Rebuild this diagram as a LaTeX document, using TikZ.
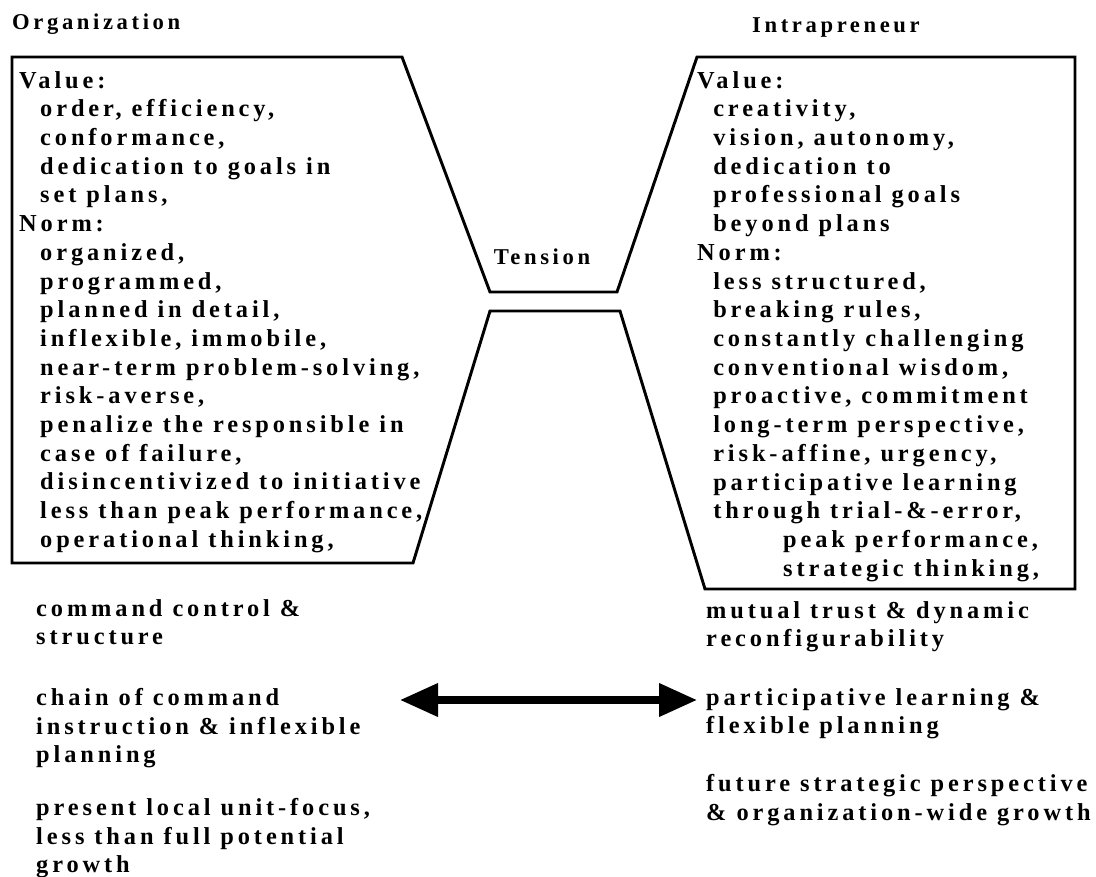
\documentclass[tikz,border=0pt]{standalone}
\usepackage{fontspec}
\setmainfont{Liberation Serif}[LetterSpace=16]
\usetikzlibrary{positioning}
\usetikzlibrary{arrows.meta}

\newcommand{\indl}{\hspace*{17.9pt}}
\newcommand{\indr}{\hspace*{13.7pt}}
\newcommand{\indp}{\hspace*{73.4pt}}

\begin{document}
\begin{tikzpicture}[x=0.03cm, y=-0.03cm,
>={Triangle[length=1.14cm,width=0.96cm]},
txt/.style={inner sep=0pt, align=left, anchor=north west, font=\fontsize{20.8}{24.5}\selectfont\bfseries},
lbl/.style={inner sep=0pt, anchor=base west, font=\fontsize{19.3}{24.5}\selectfont\bfseries},
outline/.style={draw, line width=2.5pt, line join=miter}]
\useasboundingbox (0,0) rectangle (1096,877);

\draw[outline] (12,57) -- (402,57) -- (490,292) -- (617,292) -- (697,57) -- (1075,57)
  -- (1075,589) -- (705,589) -- (620,311) -- (490,311) -- (413,563) -- (12,563) -- cycle;

\node[lbl] (orghead) at (12,30) {Organization};
\node[lbl] (inthead) at (752,33) {Intrapreneur};
\node[lbl, anchor=base] (tension) at (542,264) {Tension};

\node[txt] (orgbox) at (19,71) {Value:\\
\indl order, efficiency,\\
\indl conformance,\\
\indl dedication to goals in\\
\indl set plans,\\
Norm:\\
\indl organized,\\
\indl programmed,\\
\indl planned in detail,\\
\indl inflexible, immobile,\\
\indl near-term problem-solving,\\
\indl risk-averse,\\
\indl penalize the responsible in\\
\indl case of failure,\\
\indl disincentivized to initiative\\
\indl less than peak performance,\\
\indl operational thinking,};

\node[txt] (intbox) at (697,71) {Value:\\
\indr creativity,\\
\indr vision, autonomy,\\
\indr dedication to\\
\indr professional goals\\
\indr beyond plans\\
Norm:\\
\indr less structured,\\
\indr breaking rules,\\
\indr constantly challenging\\
\indr conventional wisdom,\\
\indr proactive, commitment\\
\indr long-term perspective,\\
\indr risk-affine, urgency,\\
\indr participative learning\\
\indr through trial-\&-error,\\
\indp peak performance,\\
\indp strategic thinking,};

\node[txt] (control) at (36,599) {command control \&\\structure};
\node[txt] (chain) at (36,688) {chain of command\\instruction \& inflexible\\planning};
\node[txt] (local) at (36,798) {present local unit-focus,\\less than full potential\\growth};

\node[txt] (trust) at (706,601) {mutual trust \& dynamic\\reconfigurability};
\node[txt] (learning) at (706,688) {participative learning \&\\flexible planning};
\node[txt] (future) at (706,774) {future strategic perspective\\\& organization-wide growth};

\coordinate (tipl) at (400,700);
\coordinate (tipr) at (697,700);
\draw[<->, line width=6pt] (tipl) -- (tipr);
\end{tikzpicture}
\end{document}
